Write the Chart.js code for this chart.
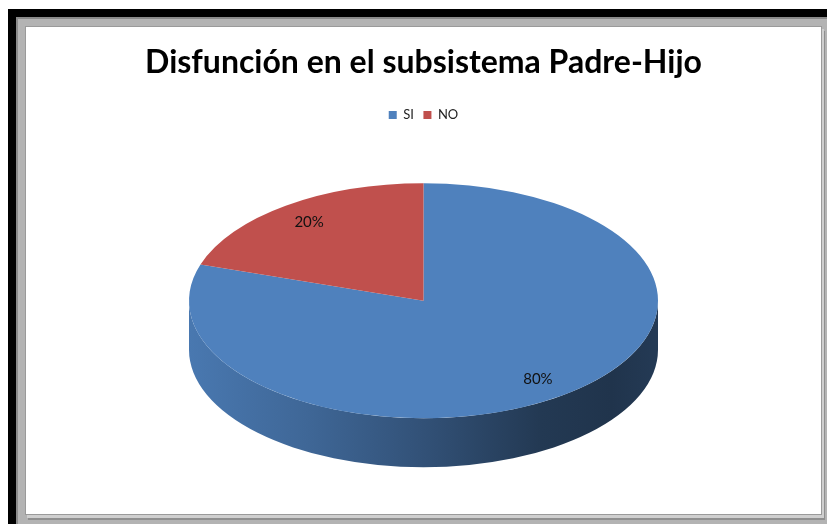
<!DOCTYPE html>
<html lang="es">
<head>
<meta charset="utf-8">
<title>Disfunción en el subsistema Padre-Hijo</title>
<script src="https://cdn.jsdelivr.net/npm/chart.js@4.4.1/dist/chart.umd.min.js"></script>
<style>
  html, body { margin: 0; padding: 0; background: #fff; }
  body { width: 827px; height: 524px; overflow: hidden; position: relative; }
  #frame-dark { position: absolute; left: 8px; top: 9px; width: 819px; height: 515px; background: #000; }
  #frame-bevel {
    position: absolute; left: 16px; top: 17px; width: 811px; height: 507px;
    background: #b3b3b3;
    box-shadow: inset 2px 2px 0 #8a8a8a;
  }
  #panel {
    position: absolute; left: 26px; top: 27px; width: 795px; height: 487px;
    background: #fff;
    box-shadow: 0 0 0 1px #9a9a9a, 2px 3px 0 1px #cfcfcf, 3px 5px 0 1px #8f8f8f;
  }
  #panel canvas { display: block; }
</style>
</head>
<body>
<div id="frame-dark"></div>
<div id="frame-bevel"></div>
<div id="panel"><canvas id="chart" width="795" height="487"></canvas></div>
<script>
// Chart content
const chartTitle = 'Disfunción en el subsistema Padre-Hijo';
const categories = ['SI', 'NO'];
const percentValues = [80, 20];
const sliceColors = ['#4f81bd', '#c0504d'];

// Look of the tilted disc
const TILT = 0.501;        // vertical squash of the disc top
const DEPTH = 49;          // thickness of the disc rim, px
const LABEL_RADIUS = 0.83; // where the percentage sits along the slice radius

function shade(hex, f) {
  const n = parseInt(hex.slice(1), 16);
  const r = Math.round(((n >> 16) & 255) * f);
  const g = Math.round(((n >> 8) & 255) * f);
  const b = Math.round((n & 255) * f);
  return 'rgb(' + r + ',' + g + ',' + b + ')';
}

// Draws the rim of the disc, squashes the slices into an ellipse and writes the percentages
const tiltedPie = {
  id: 'tiltedPie',
  beforeDatasetsDraw(chart) {
    const ctx = chart.ctx;
    const arcs = chart.getDatasetMeta(0).data;
    if (!arcs.length) return;
    const c = arcs[0].getProps(['x', 'y', 'outerRadius'], true);
    const r = c.outerRadius, ry = r * TILT;

    ctx.save();
    arcs.forEach((arc) => {
      const p = arc.getProps(['startAngle', 'endAngle'], true);
      const base = arc.options.backgroundColor;
      for (let k = -1; k <= 1; k++) {
        const off = k * 2 * Math.PI;
        const a1 = Math.max(p.startAngle, off);
        const a2 = Math.min(p.endAngle, off + Math.PI);
        if (a2 <= a1) continue;
        const grad = ctx.createLinearGradient(c.x - r, 0, c.x + r, 0);
        grad.addColorStop(0.00, shade(base, 0.93));
        grad.addColorStop(0.25, shade(base, 0.80));
        grad.addColorStop(0.50, shade(base, 0.63));
        grad.addColorStop(0.75, shade(base, 0.44));
        grad.addColorStop(0.90, shade(base, 0.40));
        grad.addColorStop(1.00, shade(base, 0.45));
        ctx.beginPath();
        ctx.ellipse(c.x, c.y, r, ry, 0, a1, a2, false);
        ctx.ellipse(c.x, c.y + DEPTH, r, ry, 0, a2, a1, true);
        ctx.closePath();
        ctx.fillStyle = grad;
        ctx.fill();
      }
    });
    ctx.restore();

    ctx.save();
    ctx.translate(0, c.y);
    ctx.scale(1, TILT);
    ctx.translate(0, -c.y);
  },
  afterDatasetsDraw(chart) {
    const ctx = chart.ctx;
    const arcs = chart.getDatasetMeta(0).data;
    if (!arcs.length) return;
    ctx.restore();

    ctx.save();
    ctx.font = '15px Lato, "Open Sans", sans-serif';
    ctx.fillStyle = '#111';
    ctx.textAlign = 'center';
    ctx.textBaseline = 'middle';
    arcs.forEach((arc, i) => {
      const p = arc.getProps(['x', 'y', 'startAngle', 'endAngle', 'outerRadius'], true);
      const mid = (p.startAngle + p.endAngle) / 2;
      const lx = p.x + Math.cos(mid) * p.outerRadius * LABEL_RADIUS;
      const ly = p.y + Math.sin(mid) * p.outerRadius * LABEL_RADIUS * TILT;
      ctx.fillText(percentValues[i] + '%', lx, ly);
    });
    ctx.restore();
  }
};

new Chart(document.getElementById('chart'), {
  type: 'pie',
  data: {
    labels: categories,
    datasets: [{
      data: percentValues,
      backgroundColor: sliceColors,
      borderWidth: 0,
      radius: 234.5,
      clip: false
    }]
  },
  options: {
    responsive: false,
    animation: false,
    events: [],
    layout: { padding: { top: 0, bottom: 44, left: 0, right: 0 } },
    plugins: {
      title: {
        display: true,
        text: chartTitle,
        color: '#000',
        font: { family: 'Lato, "Open Sans", sans-serif', size: 32, weight: 'bold' },
        padding: { top: 16, bottom: 17.6 }
      },
      legend: {
        display: true,
        position: 'top',
        labels: {
          color: '#222',
          font: { family: 'Lato, "Open Sans", sans-serif', size: 13 },
          boxWidth: 8,
          boxHeight: 8,
          padding: 9.5
        }
      },
      tooltip: { enabled: false }
    }
  },
  plugins: [tiltedPie]
});
</script>
</body>
</html>
